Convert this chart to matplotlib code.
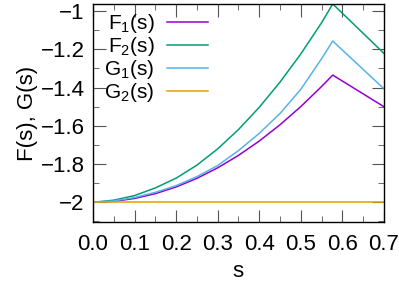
import matplotlib
matplotlib.use("Agg")
import matplotlib.pyplot as plt
from matplotlib.ticker import MultipleLocator, FuncFormatter

plt.rcParams['font.family'] = ['Liberation Sans', 'DejaVu Sans']
plt.rcParams['mathtext.fontset'] = 'custom'
plt.rcParams['mathtext.rm'] = 'Liberation Sans'
plt.rcParams['mathtext.it'] = 'Liberation Sans'

# values
s = [0.0, 0.05, 0.1, 0.15, 0.2, 0.25, 0.3, 0.35, 0.4, 0.45, 0.5, 0.55, 0.577, 0.7]
F1 = [-2.0, -1.995, -1.98, -1.955, -1.92, -1.875, -1.82, -1.755, -1.68, -1.595, -1.50, -1.395, -1.335, -1.50]
F2 = [-2.0, -1.989, -1.965, -1.925, -1.874, -1.806, -1.721, -1.62, -1.504, -1.372, -1.225, -1.062, -0.963, -1.221]
G1 = [-2.0, -1.993, -1.975, -1.948, -1.913, -1.866, -1.808, -1.73, -1.64, -1.536, -1.41, -1.25, -1.157, -1.406]
G2 = [-2.0] * len(s)

labels = ['F$_1$(s)', 'F$_2$(s)', 'G$_1$(s)', 'G$_2$(s)']
colors = ['#9400d3', '#009e73', '#56b4e9', '#e69f00']

fig = plt.figure(figsize=(3.99, 2.81), dpi=100)
ax = fig.add_axes([0.233, 0.21, 0.729, 0.776])

for ys, lab, c in zip([F1, F2, G1, G2], labels, colors):
    ax.plot(s, ys, color=c, lw=1.1, label=lab)

ax.set_xlim(0, 0.7)
ax.set_ylim(-2.103, -0.963)
ax.xaxis.set_major_locator(MultipleLocator(0.1))
ax.xaxis.set_minor_locator(MultipleLocator(0.05))
ax.yaxis.set_major_locator(MultipleLocator(0.2))
ax.yaxis.set_minor_locator(MultipleLocator(0.1))
ax.xaxis.set_major_formatter(FuncFormatter(lambda v, p: f"{v:.1f}"))
ax.yaxis.set_major_formatter(FuncFormatter(lambda v, p: f"{v:g}".replace('-', '\u2212')))
ax.tick_params(which='both', direction='in', top=True, right=True, labelsize=16, color='#555555')
ax.tick_params(which='major', length=9)
ax.tick_params(which='minor', length=4.5)
ax.tick_params(axis='x', which='major', pad=9)
ax.tick_params(axis='y', which='major', pad=6)
for sp in ax.spines.values():
    sp.set_linewidth(1.0)

ax.set_xlabel('s', fontsize=16, labelpad=4)
ax.set_ylabel('F(s), G(s)', fontsize=16, labelpad=2)

ax.legend(loc='upper left', bbox_to_anchor=(0.01, 1.0), frameon=False, markerfirst=False,
          fontsize=15, handlelength=2.0, handletextpad=0.6, labelspacing=0.0,
          borderaxespad=0.0)

fig.savefig('out.png', dpi=100)
